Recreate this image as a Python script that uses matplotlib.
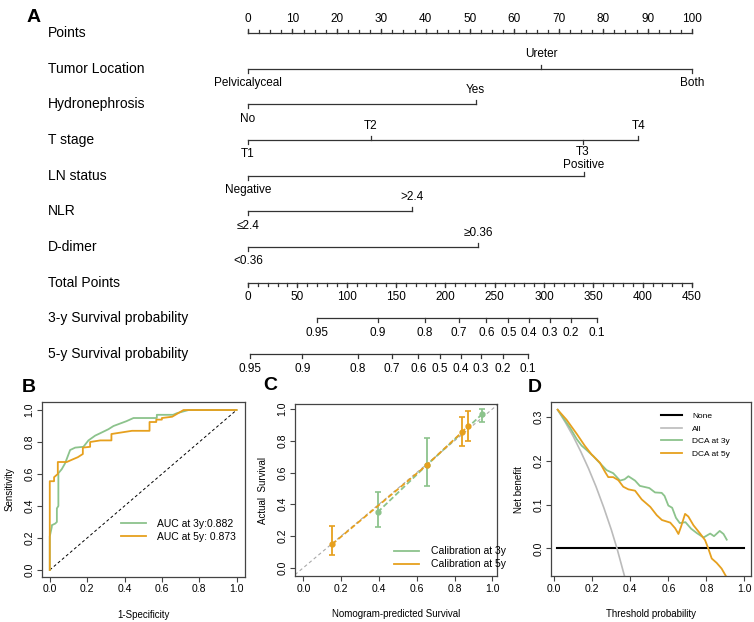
import numpy as np
import matplotlib
matplotlib.use("Agg")
import matplotlib.pyplot as plt
from matplotlib.transforms import blended_transform_factory

plt.rcParams['font.family'] = ['Liberation Sans', 'DejaVu Sans']

GREEN = '#8cc38c'
ORANGE = '#e6a01e'
LINE = '#333333'

# ---- nomogram (A) ----
points_ticks = list(range(0, 101, 10))
points_minor = list(np.arange(0, 100.1, 2.5))

var_names = ["Tumor Location", "Hydronephrosis", "T stage", "LN status", "NLR", "D-dimer"]
var_levels = [
    ["Pelvicalyceal", "Ureter", "Both"],
    ["No", "Yes"],
    ["T1", "T2", "T3", "T4"],
    ["Negative", "Positive"],
    ["\u22642.4", ">2.4"],
    ["<0.36", "\u22650.36"],
]
var_points = [
    [0, 66, 100],
    [0, 51.3],
    [0, 27.6, 75.4, 87.9],
    [0, 75.7],
    [0, 36.9],
    [0, 51.9],
]
# +1 label above line, -1 label below
var_sides = [
    [-1, 1, -1],
    [-1, 1],
    [-1, 1, -1, 1],
    [-1, 1],
    [-1, 1],
    [-1, 1],
]

total_max = 450
total_ticks = list(range(0, 451, 50))
total_minor = list(range(0, 451, 10))

surv_probs = ["0.95", "0.9", "0.8", "0.7", "0.6", "0.5", "0.4", "0.3", "0.2", "0.1"]
surv3_total = [69.6, 131.4, 179.3, 214.1, 241.5, 263.8, 284.8, 306.1, 327.0, 353.4]
surv5_total = [2.0, 55.0, 111.2, 145.6, 172.6, 194.6, 215.5, 236.1, 258.1, 284.0]

# ---- ROC (B) ----
fpr_3y = [0, 0, 0.011, 0.011, 0.029, 0.038, 0.038, 0.046, 0.046, 0.064, 0.082, 0.109,
          0.136, 0.18, 0.207, 0.243, 0.27, 0.314, 0.341, 0.41, 0.448, 0.573, 0.573,
          0.66, 0.68, 0.743, 1.0]
tpr_3y = [0, 0.21, 0.27, 0.28, 0.29, 0.30, 0.385, 0.40, 0.605, 0.63, 0.667, 0.75,
          0.765, 0.77, 0.81, 0.84, 0.855, 0.88, 0.90, 0.93, 0.95, 0.95, 0.97,
          0.97, 0.98, 1.0, 1.0]
fpr_5y = [0, 0, 0.023, 0.023, 0.043, 0.043, 0.091, 0.12, 0.15, 0.177, 0.177, 0.216,
          0.216, 0.27, 0.33, 0.33, 0.44, 0.534, 0.534, 0.57, 0.57, 0.60, 0.60,
          0.655, 0.716, 1.0]
tpr_5y = [0, 0.555, 0.555, 0.58, 0.60, 0.675, 0.675, 0.69, 0.705, 0.725, 0.765, 0.77,
          0.80, 0.81, 0.81, 0.85, 0.87, 0.87, 0.925, 0.925, 0.94, 0.94, 0.95,
          0.958, 1.0, 1.0]
auc_labels = ["AUC at 3y:0.882", "AUC at 5y: 0.873"]

# ---- calibration (C) ----
cal3_pred = [0.393, 0.652, 0.946]
cal3_obs = [0.350, 0.646, 0.968]
cal3_lo = [0.258, 0.513, 0.917]
cal3_hi = [0.479, 0.816, 1.0]
cal5_pred = [0.152, 0.652, 0.839, 0.871]
cal5_obs = [0.148, 0.646, 0.854, 0.894]
cal5_lo = [0.080, np.nan, 0.767, 0.800]
cal5_hi = [0.265, np.nan, 0.949, 0.990]

# ---- DCA (D) ----
thr_3y = [0.018, 0.06, 0.083, 0.118, 0.144, 0.17, 0.205, 0.24, 0.275, 0.31, 0.346,
          0.37, 0.39, 0.425, 0.45, 0.50, 0.53, 0.565, 0.58, 0.60, 0.62, 0.64, 0.66,
          0.69, 0.72, 0.75, 0.785, 0.82, 0.84, 0.87, 0.89, 0.907]
nb_3y = [0.317, 0.29, 0.276, 0.25, 0.235, 0.225, 0.211, 0.195, 0.179, 0.172, 0.155,
         0.158, 0.165, 0.155, 0.143, 0.138, 0.128, 0.127, 0.12, 0.098, 0.093, 0.07,
         0.058, 0.06, 0.045, 0.035, 0.025, 0.034, 0.028, 0.040, 0.033, 0.020]
thr_5y = [0.018, 0.065, 0.118, 0.16, 0.196, 0.24, 0.267, 0.284, 0.31, 0.337, 0.363,
          0.39, 0.425, 0.46, 0.505, 0.539, 0.566, 0.61, 0.636, 0.653, 0.667, 0.688,
          0.705, 0.732, 0.767, 0.793, 0.81, 0.828, 0.854, 0.88, 0.905]
nb_5y = [0.317, 0.294, 0.262, 0.235, 0.215, 0.196, 0.175, 0.163, 0.163, 0.156, 0.141,
         0.135, 0.132, 0.112, 0.095, 0.076, 0.065, 0.059, 0.046, 0.033, 0.05, 0.079,
         0.073, 0.053, 0.034, 0.019, 0.0, -0.023, -0.033, -0.046, -0.065]
thr_all = [0.018, 0.06, 0.10, 0.14, 0.18, 0.22, 0.26, 0.30, 0.33, 0.37]
nb_all = [0.317, 0.287, 0.256, 0.221, 0.183, 0.141, 0.094, 0.043, 0.0, -0.064]
thr_none = [0.016, 1.0]
nb_none = [0.0, 0.0]
dca_labels = ["None", "All", "DCA at 3y", "DCA at 5y"]


W, H = 754, 622
fig = plt.figure(figsize=(W / 100, H / 100), dpi=100)


def fx(px):
    return px / W


def fy(px):
    return 1 - px / H


# nomogram axes: x in points (0..100), y = row index
ax = fig.add_axes([fx(248), fy(354), fx(692) - fx(248), (354 - 33) / H])
ax.set_xlim(0, 100)
ax.set_ylim(9, 0)
ax.axis('off')
row_tr = blended_transform_factory(fig.transFigure, ax.transData)

TK = 0.115    # major tick length (rows)
TKm = 0.08
OFF = 0.40    # label offset (rows)
LW = 0.9
TFS = 8.5

row_labels = ["Points"] + var_names + ["Total Points", "3-y Survival probability",
                                       "5-y Survival probability"]
for i, name in enumerate(row_labels):
    ax.text(fx(48), i, name, transform=row_tr, fontsize=10, va='center', ha='left')

# Points axis (labels above, ticks up)
ax.plot([0, 100], [0, 0], color=LINE, lw=LW, clip_on=False)
for t in points_minor:
    ax.plot([t, t], [0, -TKm], color=LINE, lw=LW, clip_on=False)
for t in points_ticks:
    ax.plot([t, t], [0, -TK], color=LINE, lw=LW, clip_on=False)
    ax.text(t, -OFF, str(t), fontsize=TFS, ha='center', va='center')

# variable rows
tight = {"T3": 0.35, "Positive": 0.29}
for r, (levels, pts, sides) in enumerate(zip(var_levels, var_points, var_sides)):
    y = r + 1
    ax.plot([min(pts), max(pts)], [y, y], color=LINE, lw=LW, clip_on=False)
    for lab, p, s in zip(levels, pts, sides):
        ax.plot([p, p], [y, y - s * TK], color=LINE, lw=LW, clip_on=False)
        off = tight.get(lab, OFF)
        ax.text(p, y - s * off, lab, fontsize=TFS, ha='center', va='center')

# Total points (labels below)
scale = 100 / total_max
y = 7
ax.plot([0, 100], [y, y], color=LINE, lw=LW, clip_on=False)
for t in total_minor:
    ax.plot([t * scale] * 2, [y, y + TKm], color=LINE, lw=LW, clip_on=False)
for t in total_ticks:
    ax.plot([t * scale] * 2, [y, y + TK], color=LINE, lw=LW, clip_on=False)
    ax.text(t * scale, y + OFF, str(t), fontsize=TFS, ha='center', va='center')

# survival axes
for y, tot in [(8, surv3_total), (9, surv5_total)]:
    xs = [t * scale for t in tot]
    ax.plot([min(xs), max(xs)], [y, y], color=LINE, lw=LW, clip_on=False)
    for x, lab in zip(xs, surv_probs):
        ax.plot([x, x], [y, y + TK], color=LINE, lw=LW, clip_on=False)
        ax.text(x, y + OFF + 0.02, lab, fontsize=TFS, ha='center', va='center')

fig.text(fx(27), fy(17), "A", fontsize=14, fontweight='bold', va='center', ha='left')


def r_style(a, xlim, ylim, ticks):
    a.set_xlim(*xlim)
    a.set_ylim(*ylim)
    for s in a.spines.values():
        s.set_color('#444444')
        s.set_linewidth(0.9)
    a.set_xticks(ticks[0])
    a.set_yticks(ticks[1])
    a.tick_params(direction='out', length=3.5, width=0.8, colors='#444444',
                  labelcolor='black', labelsize=7.5, pad=2)
    for lab in a.get_yticklabels():
        lab.set_rotation(90)
        lab.set_va('center')


ticks01 = [0, 0.2, 0.4, 0.6, 0.8, 1.0]
LEG = dict(frameon=False, fontsize=7.5, handlelength=2.4, handletextpad=1.1,
           labelspacing=0.3, borderpad=0.3)

# B: ROC
axB = fig.add_axes([fx(42.3), fy(576.7), (245 - 42.3) / W, (576.7 - 401.7) / H])
r_style(axB, (-0.04, 1.045), (-0.042, 1.052), (ticks01, ticks01))
axB.plot([0, 1], [0, 1], color='black', lw=0.7, ls=(0, (3, 2.5)))
axB.plot(fpr_3y, tpr_3y, color=GREEN, lw=1.3, label=auc_labels[0])
axB.plot(fpr_5y, tpr_5y, color=ORANGE, lw=1.3, label=auc_labels[1])
axB.set_xticklabels([f"{t:.1f}" for t in ticks01])
axB.set_yticklabels([f"{t:.1f}" for t in ticks01], rotation=90, va='center')
axB.set_xlabel("1-Specificity", fontsize=7, labelpad=11)
axB.set_ylabel("Sensitivity", fontsize=7, labelpad=7)
axB.legend(loc='upper left', bbox_to_anchor=(0.345, 0.38), **LEG)
fig.text(fx(22), fy(387), "B", fontsize=14, fontweight='bold', va='center', ha='left')

# C: calibration
axC = fig.add_axes([fx(295), fy(576), (497.3 - 295) / W, (576 - 404.3) / H])
r_style(axC, (-0.044, 1.026), (-0.052, 1.03), (ticks01, ticks01))
axC.axline((0, 0), slope=1, color='#aaaaaa', lw=0.8, ls=(0, (3, 2.5)))
c3 = np.array(cal3_obs)
c5 = np.array(cal5_obs)
axC.errorbar(cal3_pred, cal3_obs, yerr=[c3 - np.array(cal3_lo), np.array(cal3_hi) - c3],
             color=GREEN, ls=(0, (3, 1.5)), lw=1.3, marker='o', ms=3.5, capsize=2.5,
             elinewidth=1.3, capthick=1.2)
axC.errorbar(cal5_pred, cal5_obs, yerr=[c5 - np.array(cal5_lo), np.array(cal5_hi) - c5],
             color=ORANGE, ls=(0, (3, 1.5)), lw=1.3, marker='o', ms=3.5, capsize=2.5,
             elinewidth=1.3, capthick=1.2)
axC.plot([], [], color=GREEN, lw=1.3, label="Calibration at 3y")
axC.plot([], [], color=ORANGE, lw=1.3, label="Calibration at 5y")
axC.set_xticklabels([f"{t:.1f}" for t in ticks01])
axC.set_yticklabels([f"{t:.1f}" for t in ticks01], rotation=90, va='center')
axC.set_xlabel("Nomogram-predicted Survival", fontsize=7, labelpad=11)
axC.set_ylabel("Actual  Survival", fontsize=7, labelpad=7)
axC.legend(loc='lower left', bbox_to_anchor=(0.45, -0.01), **LEG)
fig.text(fx(263), fy(386), "C", fontsize=14, fontweight='bold', va='center', ha='left')

# D: DCA
axD = fig.add_axes([fx(551), fy(576), (750.7 - 551) / W, (576 - 402.3) / H])
r_style(axD, (-0.017, 1.033), (-0.063, 0.334), (ticks01, [0.0, 0.1, 0.2, 0.3]))
axD.plot(thr_none, nb_none, color='black', lw=1.5, label=dca_labels[0])
axD.plot(thr_all, nb_all, color='#bbbbbb', lw=1.2, label=dca_labels[1])
axD.plot(thr_3y, nb_3y, color=GREEN, lw=1.3, label=dca_labels[2])
axD.plot(thr_5y, nb_5y, color=ORANGE, lw=1.3, label=dca_labels[3])
axD.set_xticklabels([f"{t:.1f}" for t in ticks01])
axD.set_yticklabels([f"{t:.1f}" for t in [0.0, 0.1, 0.2, 0.3]], rotation=90, va='center')
axD.set_xlabel("Threshold probability", fontsize=7, labelpad=11)
axD.set_ylabel("Net benefit", fontsize=7, labelpad=7)
axD.legend(loc='upper left', bbox_to_anchor=(0.515, 0.98), frameon=False, fontsize=6,
           handlelength=2.6, handletextpad=1.2, labelspacing=0.55, borderpad=0.3)
fig.text(fx(528), fy(387), "D", fontsize=14, fontweight='bold', va='center', ha='left')

fig.savefig("out.png", dpi=100)
